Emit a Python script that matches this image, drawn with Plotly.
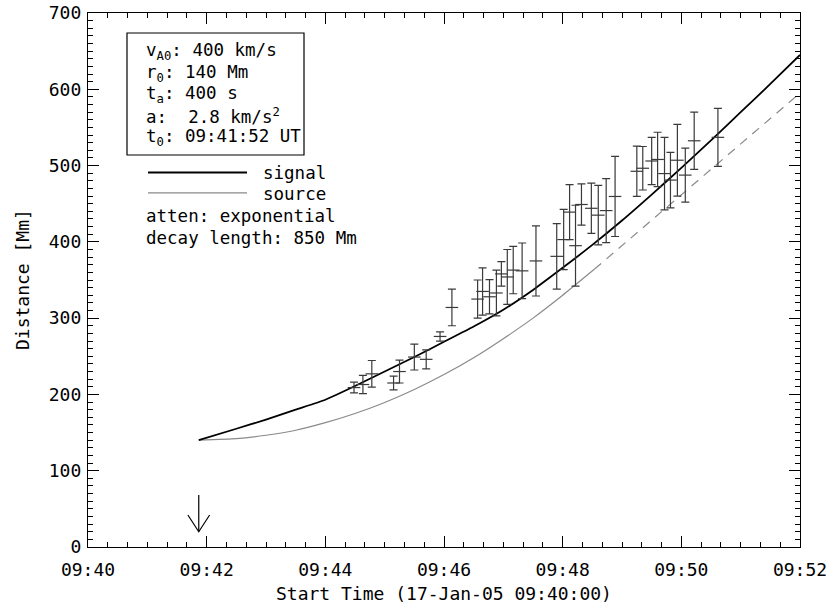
import plotly.graph_objects as go
import datetime as _dt

DAY = "2005-01-17 "

# model curves
signal_t = ["09:41:52", "09:42:30", "09:43:00", "09:43:30", "09:44:00", "09:44:30", "09:45:00", "09:45:30",
            "09:46:00", "09:46:30", "09:47:00", "09:47:30", "09:48:00", "09:48:30", "09:49:00", "09:49:30",
            "09:50:00", "09:50:30", "09:51:00", "09:51:30", "09:52:00"]
signal_r = [140, 155, 167, 180, 193, 211, 230, 249, 269, 289, 311, 337, 366, 396, 428, 462, 497, 533,
            570, 607, 645]

source_t = ["09:41:52", "09:42:30", "09:43:00", "09:43:30", "09:44:00", "09:44:30", "09:45:00", "09:45:30",
            "09:46:00", "09:46:30", "09:47:00", "09:47:30", "09:48:00", "09:48:32"]
source_r = [140, 142, 146.5, 153, 163, 175, 189.5, 206.5, 226, 248, 273, 300, 330, 364]

source_ext_t = ["09:48:32", "09:52:00"]
source_ext_r = [364, 595]

# measured front positions with uncertainties
obs_t = ["09:44:29", "09:44:38", "09:44:47", "09:45:09", "09:45:15", "09:45:30", "09:45:42", "09:45:56",
         "09:46:08", "09:46:34", "09:46:39", "09:46:46", "09:46:53", "09:46:58", "09:47:04", "09:47:10",
         "09:47:19", "09:47:33", "09:47:54", "09:48:01", "09:48:07", "09:48:13", "09:48:19", "09:48:29",
         "09:48:36", "09:48:44", "09:48:53", "09:49:15", "09:49:21", "09:49:30", "09:49:36", "09:49:43",
         "09:49:49", "09:49:56", "09:50:04", "09:50:13", "09:50:37"]
obs_r = [209, 213, 227, 215, 230, 249, 246, 276, 314, 325, 335, 328, 333, 358, 354, 363, 362, 375, 381,
         403, 439, 395, 449, 444, 435, 441, 459.5, 492.5, 496.5, 506, 508, 489.5, 481, 507, 487.5, 532.5, 537]
obs_err = [7, 12, 17.5, 9, 15, 17, 12.5, 6, 24, 25, 31, 22.5, 30, 16, 36, 31, 36.5, 46, 43, 39.5, 36, 53,
           27, 33, 39, 42, 52.5, 33, 28.5, 31, 35.7, 47.5, 36.4, 47, 35.5, 37.5, 38]

t_onset = "09:41:52"

param_lines = ["v<sub>A0</sub>: 400 km/s", "r<sub>0</sub>: 140 Mm", "t<sub>a</sub>: 400 s",
               "a:  2.8 km/s<sup>2</sup>", "t<sub>0</sub>: 09:41:52 UT"]
legend_names = ["signal", "source"]
extra_lines = ["atten: exponential", "decay length: 850 Mm"]
x_title = "Start Time (17-Jan-05 09:40:00)"
y_title = "Distance [Mm]"

x_range = ["09:40:00", "09:52:00"]
y_range = [0, 700]

FONT = "DejaVu Sans Mono"
FS = 18
FS_TXT = 17.5
GRAY = "#8a8a8a"
BAR = "#3a3a3a"

def ts(lst):
    return [DAY + s for s in lst]

fig = go.Figure()

fig.add_trace(go.Scatter(x=ts(source_t), y=source_r, mode="lines",
                         line=dict(color=GRAY, width=1.2, shape="spline", smoothing=0.5),
                         hoverinfo="skip", showlegend=False))
fig.add_trace(go.Scatter(x=ts(source_ext_t), y=source_ext_r, mode="lines",
                         line=dict(color=GRAY, width=1.2, dash="9px,7px"),
                         hoverinfo="skip", showlegend=False))
fig.add_trace(go.Scatter(x=ts(signal_t), y=signal_r, mode="lines",
                         line=dict(color="black", width=1.8, shape="spline", smoothing=0.5),
                         showlegend=False))
fig.add_trace(go.Scatter(x=ts(obs_t), y=obs_r, mode="markers",
                         marker=dict(symbol="line-ew", size=9, color=BAR,
                                     line=dict(color=BAR, width=1.2)),
                         error_y=dict(type="data", array=obs_err, visible=True, color=BAR,
                                      thickness=1.2, width=4),
                         showlegend=False))

# onset arrow
t0 = DAY + t_onset
_t0 = _dt.datetime.strptime(t0, "%Y-%m-%d %H:%M:%S")
def off(sec):
    return (_t0 + _dt.timedelta(seconds=sec)).strftime("%Y-%m-%d_%H:%M:%S")
fig.add_annotation(x=t0, y=20, ax=t0, ay=70, xref="x", yref="y", axref="x", ayref="y",
                   text="", showarrow=True, arrowhead=0, arrowwidth=1.2, arrowcolor="black")
fig.add_shape(type="path", xref="x", yref="y",
              path=f"M {off(-11)},42 L {off(0)},20 L {off(11)},42",
              line=dict(color="black", width=1.2))

# layout helpers (plot area spans x 88..800 px, y 13..547 px)
def px2paper_x(px):
    return (px - 88) / 712
def px2paper_y(py):
    return (547 - py) / 534

fig.add_shape(type="rect", xref="paper", yref="paper",
              x0=px2paper_x(127), x1=px2paper_x(304), y0=px2paper_y(155), y1=px2paper_y(33),
              line=dict(color="black", width=1.2))
for i, txt in enumerate(param_lines):
    fig.add_annotation(x=px2paper_x(144), y=px2paper_y(52 + 21.3 * i), xref="paper", yref="paper",
                       text=txt, showarrow=False, xanchor="left", yanchor="middle",
                       font=dict(family=FONT, size=FS_TXT, color="black"))

legend_colors = ["black", GRAY]
legend_widths = [1.8, 1.2]
for i, name in enumerate(legend_names):
    yy = px2paper_y(172.5 + 20.3 * i)
    fig.add_shape(type="line", xref="paper", yref="paper", x0=px2paper_x(148), x1=px2paper_x(247),
                  y0=yy, y1=yy, line=dict(color=legend_colors[i], width=legend_widths[i]))
    fig.add_annotation(x=px2paper_x(261), y=px2paper_y(173 + 21 * i), xref="paper", yref="paper",
                       text=name, showarrow=False, xanchor="left", yanchor="middle",
                       font=dict(family=FONT, size=FS_TXT, color="black"))
for i, txt in enumerate(extra_lines):
    fig.add_annotation(x=px2paper_x(144), y=px2paper_y(216 + 22 * i), xref="paper", yref="paper",
                       text=txt, showarrow=False, xanchor="left", yanchor="middle",
                       font=dict(family=FONT, size=FS_TXT, color="black"))

# axis titles
fig.add_annotation(x=0.5, y=px2paper_y(593), xref="paper", yref="paper", text=x_title,
                   showarrow=False, xanchor="center", yanchor="middle",
                   font=dict(family=FONT, size=FS, color="black"))
fig.add_annotation(x=px2paper_x(22), y=0.5, xref="paper", yref="paper", text=y_title,
                   showarrow=False, xanchor="center", yanchor="middle", textangle=-90,
                   font=dict(family=FONT, size=FS, color="black"))

axis_common = dict(showline=True, linecolor="black", linewidth=1.2, mirror="allticks",
                   ticks="inside", tickcolor="black", tickwidth=1, showgrid=False, zeroline=False,
                   automargin=False, tickfont=dict(family=FONT, size=FS, color="black"))

fig.update_xaxes(type="date", range=ts(x_range), dtick=120000, tick0=DAY + "09:40:00",
                 tickformat="%H:%M", ticklen=11, ticklabelstandoff=6,
                 minor=dict(dtick=20000, ticklen=5, ticks="inside", tickcolor="black", showgrid=False),
                 **axis_common)
fig.update_yaxes(range=y_range, dtick=100, ticklen=11, ticklabelstandoff=2,
                 minor=dict(dtick=10, ticklen=5, ticks="inside", tickcolor="black", showgrid=False),
                 **axis_common)

fig.update_layout(width=830, height=612, margin=dict(l=88, r=30, t=13, b=65, autoexpand=False),
                  paper_bgcolor="white", plot_bgcolor="white", showlegend=False,
                  font=dict(family=FONT, size=FS, color="black"))

fig.write_html("out.html")
